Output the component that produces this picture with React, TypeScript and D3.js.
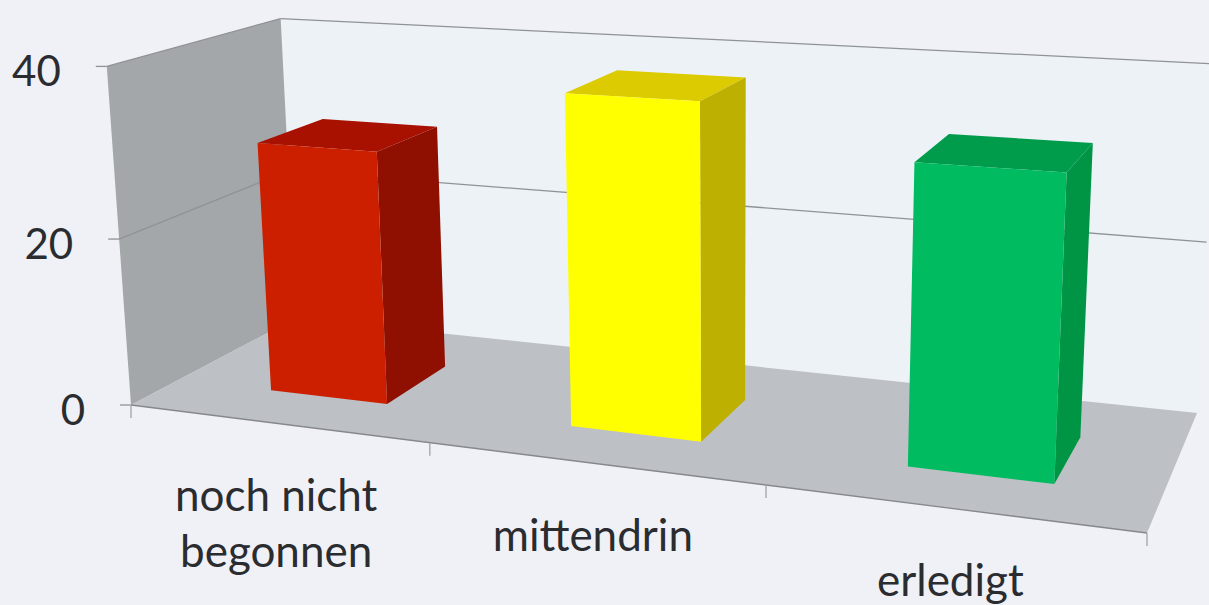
import React from "react";
import * as d3 from "d3";

const categories = [["noch nicht", "begonnen"], ["mittendrin"], ["erledigt"]];
const values = [30, 38, 33];
const axisTicks = [0, 20, 40];
const frontColors = ["#cc1f00", "#ffff00", "#00bb60"];
const sideColors = ["#8f0f00", "#bdb000", "#009545"];
const topColors = ["#a81000", "#dccb00", "#009c4c"];

const WIDTH = 1209;
const HEIGHT = 605;
const FONT = "Lato, 'Open Sans', sans-serif";

// Corners of the plot cube on screen: the floor, then the three visible top corners.
const floorFrontLeft: [number, number] = [131, 405];
const floorFrontRight: [number, number] = [1147, 533];
const floorBackRight: [number, number] = [1197, 413];
const floorBackLeft: [number, number] = [296, 318];
const topCorners: [number, number, number, number][] = [
  [0, 0, 107, 56],
  [0, 1, 281, 14],
  [1, 1, 1216, 80],
];

// Projective camera: (u along categories, v into depth, w up) to screen.
// The floor fixes eight coefficients; the height terms are a least-squares fit to the top corners.
function makeCamera() {
  const [x0, y0] = floorFrontLeft;
  const [x1, y1] = floorFrontRight;
  const [x2, y2] = floorBackRight;
  const [x3, y3] = floorBackLeft;
  const dx1 = x1 - x2, dx2 = x3 - x2, sx = x0 - x1 + x2 - x3;
  const dy1 = y1 - y2, dy2 = y3 - y2, sy = y0 - y1 + y2 - y3;
  const den = dx1 * dy2 - dx2 * dy1;
  const g = (sx * dy2 - dx2 * sy) / den;
  const h = (dx1 * sy - sx * dy1) / den;
  const a = x1 - x0 + g * x1, b = x3 - x0 + h * x3;
  const e = y1 - y0 + g * y1, f = y3 - y0 + h * y3;

  const rx = topCorners.map(([u, v, X]) => X * (g * u + h * v + 1) - (a * u + b * v + x0));
  const ry = topCorners.map(([u, v, , Y]) => Y * (g * u + h * v + 1) - (e * u + f * v + y0));
  const Xs = topCorners.map((t) => t[2]);
  const Ys = topCorners.map((t) => t[3]);
  const mx = d3.mean(Xs) as number, my = d3.mean(Ys) as number;
  const mrx = d3.mean(rx) as number, mry = d3.mean(ry) as number;
  const i =
    -(d3.sum(Xs, (X, k) => (X - mx) * (rx[k] - mrx)) + d3.sum(Ys, (Y, k) => (Y - my) * (ry[k] - mry))) /
    (d3.sum(Xs, (X) => (X - mx) ** 2) + d3.sum(Ys, (Y) => (Y - my) ** 2));
  const c = mx * i + mrx;
  const m = my * i + mry;
  return (u: number, v: number, w: number): [number, number] => {
    const q = g * u + h * v + i * w + 1;
    return [(a * u + b * v + c * w + x0) / q, (e * u + f * v + m * w + y0) / q];
  };
}

const project = makeCamera();
const uScale = d3.scaleBand<number>().domain(d3.range(categories.length)).range([0.009, 1.006]).paddingInner(0.6).paddingOuter(0.3);
const wScale = d3.scaleLinear().domain([0, 40]).range([0, 1]);
const tickBand = d3.scaleBand<number>().domain(d3.range(categories.length)).range([0, 1]);
const vFront = 0.27;
const vBack = 0.67;

const poly = d3.line<[number, number]>().curve(d3.curveLinearClosed);
const quad = (pts: [number, number, number][]) => poly(pts.map(([u, v, w]) => project(u, v, w))) as string;
const seg = (p: [number, number, number], q: [number, number, number]) =>
  d3.line()([project(...p), project(...q)]) as string;

export default function App() {
  return (
    <svg width={WIDTH} height={HEIGHT} style={{ position: "fixed", left: 0, top: 0, background: "#eff1f6" }}>
      {/* walls and floor */}
      <path d={quad([[0, 1, 0], [1, 1, 0], [1, 1, 1], [0, 1, 1]])} fill="#edf2f7" />
      <path d={quad([[0, 0, 0], [0, 1, 0], [0, 1, 1], [0, 0, 1]])} fill="#a4a7aa" />
      <path d={quad([[0, 0, 0], [1, 0, 0], [1, 1, 0], [0, 1, 0]])} fill="#bdc0c4" />

      {/* gridlines and axis ticks */}
      {axisTicks.filter((t) => t > 0).map((t) => (
        <g key={t} fill="none" stroke="#8f9296" strokeWidth={1.3}>
          <path d={seg([0, 0, wScale(t)], [0, 1, wScale(t)])} />
          <path d={seg([0, 1, wScale(t)], [1, 1, wScale(t)])} />
        </g>
      ))}
      {axisTicks.map((t) => {
        const [x, y] = project(0, 0, wScale(t));
        return (
          <g key={t}>
            <line x1={x - 11} x2={x} y1={y} y2={y} stroke="#8f9296" strokeWidth={1.3} />
            <text x={x - 46} y={y + 20} textAnchor="end" fontFamily={FONT} fontSize={42} fill="#2a2c30">{t}</text>
          </g>
        );
      })}
      <path d={seg([0, 0, 0], [1, 0, 0])} stroke="#85888c" strokeWidth={1.3} fill="none" />
      {d3.range(categories.length + 1).map((n) => {
        const [x, y] = project(n / categories.length, 0, 0);
        return <line key={n} x1={x} x2={x} y1={y} y2={y + 13} stroke="#a0a3a7" strokeWidth={1.3} />;
      })}

      {/* columns */}
      {values.map((val, n) => {
        const u0 = uScale(n) as number;
        const u1 = u0 + uScale.bandwidth();
        const w = wScale(val);
        return (
          <g key={n}>
            <path d={quad([[u0, vFront, w], [u1, vFront, w], [u1, vBack, w], [u0, vBack, w]])} fill={topColors[n]} />
            <path d={quad([[u1, vFront, 0], [u1, vBack, 0], [u1, vBack, w], [u1, vFront, w]])} fill={sideColors[n]} />
            <path d={quad([[u0, vFront, 0], [u1, vFront, 0], [u1, vFront, w], [u0, vFront, w]])} fill={frontColors[n]} />
          </g>
        );
      })}

      {/* category labels */}
      {categories.map((lines, n) => {
        const mid = (tickBand(n) as number) + tickBand.bandwidth() / 2;
        const [x, y] = project(mid, 0, 0);
        return (
          <text key={n} textAnchor="middle" fontFamily={FONT} fontSize={44} fill="#2a2c30">
            {lines.map((line, k) => (
              <tspan key={k} x={x} y={y + 88 + k * 56}>{line}</tspan>
            ))}
          </text>
        );
      })}
    </svg>
  );
}
